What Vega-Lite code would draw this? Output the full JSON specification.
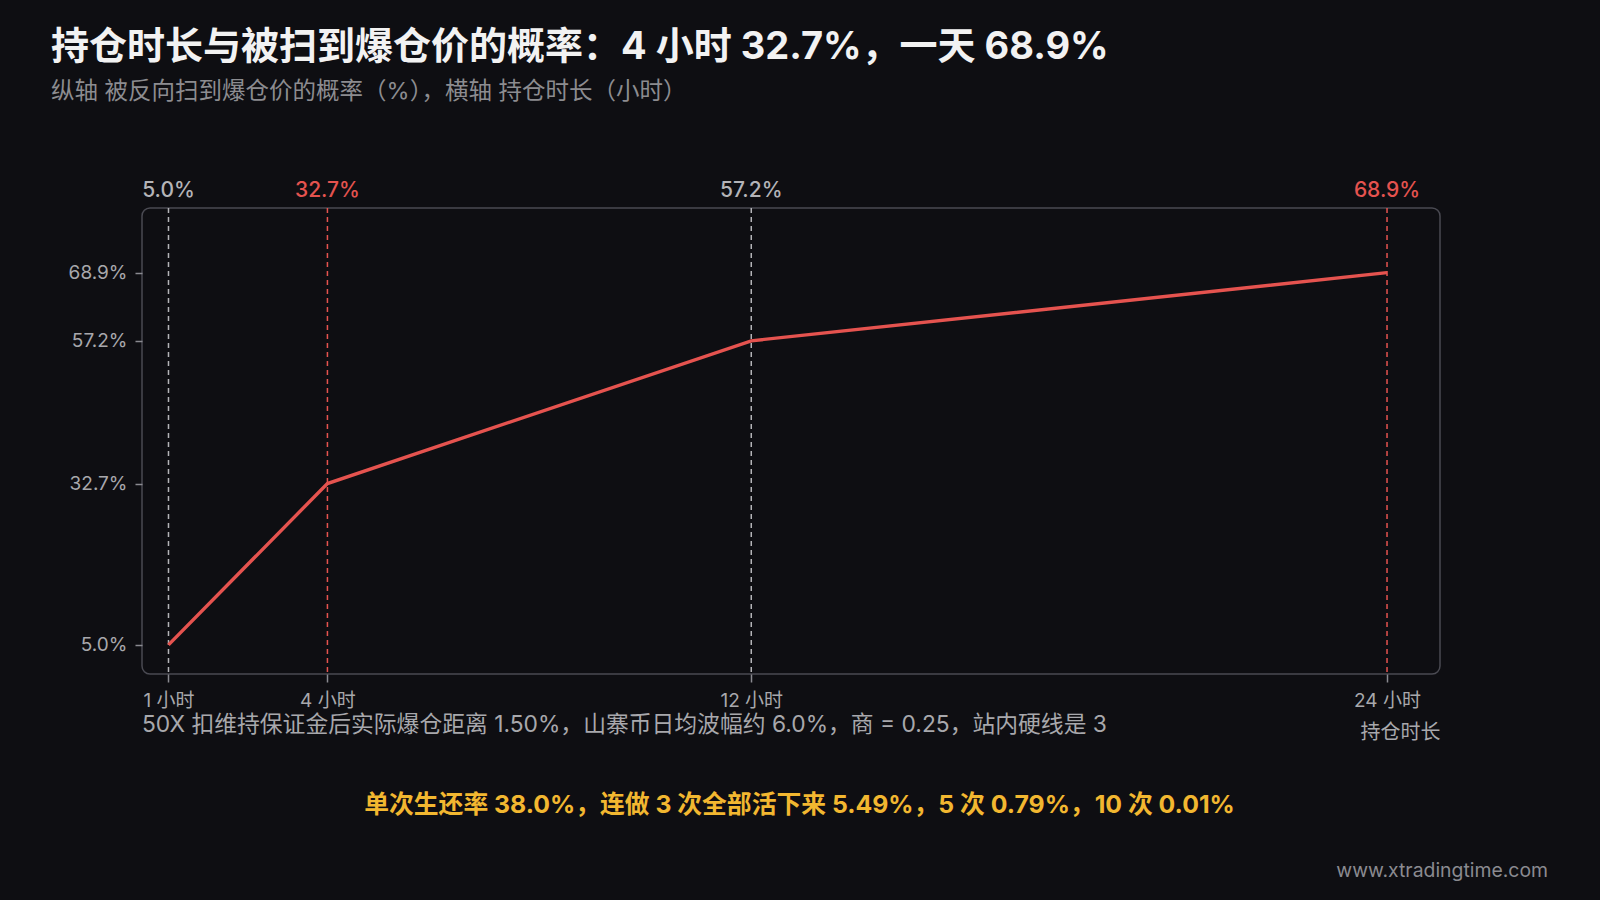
{
  "$schema": "https://vega.github.io/schema/vega-lite/v6.json",
  "autosize": {"type": "none"},
  "width": 1298,
  "height": 466,
  "padding": {"left": 142, "top": 208, "right": 160, "bottom": 226},
  "background": "#0e0e12",
  "config": {
    "font": "Inter, Noto Sans CJK SC",
    "view": {"stroke": "#4a4a52", "strokeWidth": 1.5, "cornerRadius": 8},
    "axis": {"grid": false, "domain": false, "labelFont": "Inter, Noto Sans CJK SC", "titleFont": "Inter, Noto Sans CJK SC"}
  },
  "title": {
    "text": "持仓时长与被扫到爆仓价的概率：4 小时 32.7%，一天 68.9%",
    "subtitle": "纵轴 被反向扫到爆仓价的概率（%），横轴 持仓时长（小时）",
    "anchor": "start",
    "frame": "group",
    "dx": -91,
    "dy": -73,
    "font": "Inter, Noto Sans CJK SC",
    "fontSize": 38,
    "fontWeight": "bold",
    "color": "#f2f2f2",
    "subtitleFont": "Inter, Noto Sans CJK SC",
    "subtitleFontSize": 23.5,
    "subtitleColor": "#8c8c90",
    "subtitlePadding": 13
  },
  "datasets": {
    "pts": [
      {"hours": 1, "prob": 5.0, "label": "5.0%"},
      {"hours": 4, "prob": 32.7, "label": "32.7%"},
      {"hours": 12, "prob": 57.2, "label": "57.2%"},
      {"hours": 24, "prob": 68.9, "label": "68.9%"}
    ],
    "notes": [
      {"kind": "params", "x": 0.5, "y": -10, "text": "50X 扣维持保证金后实际爆仓距离 1.50%，山寨币日均波幅约 6.0%，商 = 0.25，站内硬线是 3"},
      {"kind": "survival", "x": 12.91, "y": -23.85, "text": "单次生还率 38.0%，连做 3 次全部活下来 5.49%，5 次 0.79%，10 次 0.01%"},
      {"kind": "site", "x": 27.04, "y": -34.8, "text": "www.xtradingtime.com"}
    ]
  },
  "layer": [
    {
      "data": {"name": "pts"},
      "mark": {"type": "rule", "strokeDash": [5, 4], "strokeWidth": 1.5},
      "encoding": {
        "x": {
          "field": "hours", "type": "quantitative",
          "scale": {"domain": [0.5, 25], "nice": false, "zero": false},
          "axis": {
            "values": [1, 4, 12, 24],
            "labelExpr": "datum.value + ' 小时'",
            "labelFontSize": 19,
            "labelColor": "#a8a8ac",
            "labelPadding": 9,
            "ticks": true,
            "tickColor": "#8a8a90",
            "tickSize": 8,
            "tickWidth": 1.5,
            "title": "持仓时长",
            "titleFontSize": 20,
            "titleFontWeight": "normal",
            "titleColor": "#a8a8ac",
            "titleAnchor": "end",
            "titleAlign": "right",
            "titleBaseline": "alphabetic",
            "titleY": 64
          }
        },
        "color": {
          "condition": {"test": "datum.hours == 4 || datum.hours == 24", "value": "#e5534f"},
          "value": "#b4b4b8"
        }
      }
    },
    {
      "data": {"name": "pts"},
      "mark": {"type": "line", "color": "#e5534f", "strokeWidth": 3.4},
      "encoding": {
        "x": {"field": "hours", "type": "quantitative"},
        "y": {
          "field": "prob", "type": "quantitative",
          "scale": {"domain": [0, 80], "nice": false},
          "axis": {
            "values": [5, 32.7, 57.2, 68.9],
            "labelExpr": "format(datum.value, '.1f') + '%'",
            "labelFontSize": 19,
            "labelColor": "#a8a8ac",
            "labelPadding": 8,
            "ticks": true,
            "tickColor": "#8a8a90",
            "tickSize": 7,
            "tickWidth": 1.5,
            "title": null
          }
        }
      }
    },
    {
      "data": {"name": "pts"},
      "mark": {"type": "text", "fontSize": 21, "fontWeight": 500, "baseline": "alphabetic", "dy": -11, "align": "center"},
      "encoding": {
        "x": {"field": "hours", "type": "quantitative"},
        "y": {"datum": 80},
        "text": {"field": "label"},
        "color": {
          "condition": {"test": "datum.hours == 4 || datum.hours == 24", "value": "#e5534f"},
          "value": "#b4b4b8"
        }
      }
    },
    {
      "data": {"name": "notes"},
      "transform": [{"filter": "datum.kind == 'params'"}],
      "mark": {"type": "text", "fontSize": 22.8, "align": "left", "baseline": "alphabetic", "color": "#a8a8ac"},
      "encoding": {
        "x": {"field": "x", "type": "quantitative"},
        "y": {"field": "y", "type": "quantitative"},
        "text": {"field": "text"}
      }
    },
    {
      "data": {"name": "notes"},
      "transform": [{"filter": "datum.kind == 'survival'"}],
      "mark": {"type": "text", "fontSize": 24.8, "fontWeight": "bold", "align": "center", "baseline": "alphabetic", "color": "#f2b730"},
      "encoding": {
        "x": {"field": "x", "type": "quantitative"},
        "y": {"field": "y", "type": "quantitative"},
        "text": {"field": "text"}
      }
    },
    {
      "data": {"name": "notes"},
      "transform": [{"filter": "datum.kind == 'site'"}],
      "mark": {"type": "text", "fontSize": 19.4, "align": "right", "baseline": "alphabetic", "color": "#8a8a90"},
      "encoding": {
        "x": {"field": "x", "type": "quantitative"},
        "y": {"field": "y", "type": "quantitative"},
        "text": {"field": "text"}
      }
    }
  ]
}
